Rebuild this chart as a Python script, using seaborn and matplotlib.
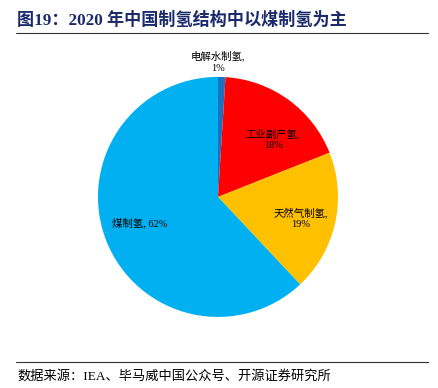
import matplotlib
matplotlib.use("Agg")
import matplotlib.pyplot as plt
import seaborn as sns
import numpy as np

sns.set_theme(style="white")
plt.rcParams['font.family'] = ['Liberation Serif', 'Noto Sans CJK SC', 'DejaVu Sans']

categories = ["电解水制氢", "工业副产氢", "天然气制氢", "煤制氢"]
values = [1, 18, 19, 62]
colors = ["#1F6FC0", "#FF0000", "#FFC000", "#00B0F0"]
label_texts = ["电解水制氢,\n1%", "工业副产氢,\n18%", "天然气制氢,\n19%", "煤制氢, 62%"]
label_pos = [(0.0, 1.125), (0.46, 0.48), (0.69, -0.175), (-0.65, -0.22)]

fig = plt.figure(figsize=(4.38, 3.88), dpi=100)
ax = fig.add_axes([0.2237, 0.1830, 0.548, 0.619])
ax.pie(values, colors=colors, startangle=90, counterclock=False,
       wedgeprops=dict(linewidth=0))
ax.set_xlim(-1, 1)
ax.set_ylim(-1, 1)
ax.set_aspect('equal')
ax.axis('off')

for t, (x, y) in zip(label_texts, label_pos):
    ax.text(x, y, t, ha='center', va='center', fontsize=7.5, color='black',
            linespacing=1.3, clip_on=False)

fig.text(0.039, 0.948, "图19：2020 年中国制氢结构中以煤制氢为主", ha='left', va='center',
         fontsize=12.3, fontweight='bold', color='#1B2A6B')
fig.add_artist(plt.Line2D([0.036, 0.977], [0.915, 0.915], color='#333333', lw=0.8))
fig.add_artist(plt.Line2D([0.036, 0.977], [0.067, 0.067], color='#333333', lw=0.8))
fig.text(0.039, 0.031, "数据来源：IEA、毕马威中国公众号、开源证券研究所", ha='left', va='center',
         fontsize=9.5, color='black')

fig.savefig("out.png", dpi=100)
